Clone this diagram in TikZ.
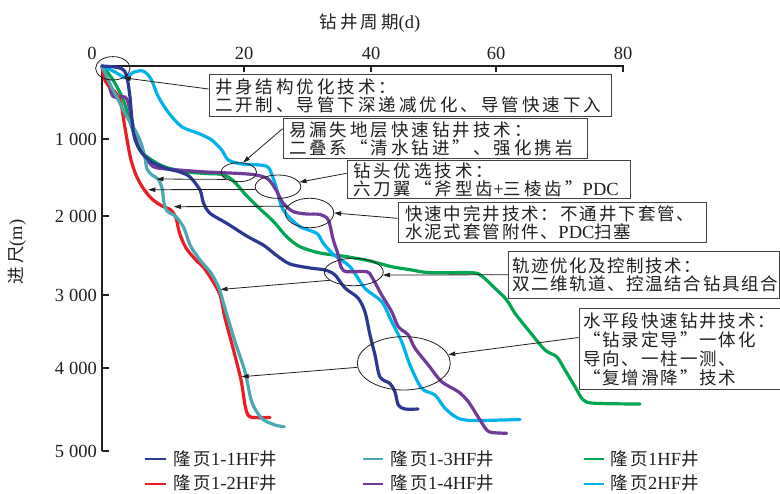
\documentclass[tikz,border=0pt]{standalone}
\usepackage{fontspec}
\setmainfont{Liberation Serif}
\newfontfamily\cjk[LetterSpace=17,Scale=0.946]{Noto Sans CJK SC}
\newfontfamily\cjkm[LetterSpace=11,Scale=0.946]{Noto Sans CJK SC}
\newfontfamily\cjkn[LetterSpace=9,Scale=0.946]{Noto Sans CJK SC}
\usetikzlibrary{shapes.geometric,arrows.meta}
\definecolor{cnavy}{HTML}{2B3990}
\definecolor{cred}{HTML}{ED1C24}
\definecolor{cteal}{HTML}{4AA8B3}
\definecolor{cgreen}{HTML}{00A651}
\definecolor{cpurple}{HTML}{6F3A98}
\definecolor{ccyan}{HTML}{00B3EC}
\definecolor{ink}{HTML}{231F20}
\newcommand\zh[1]{{\cjk #1}}
\newcommand\zhm[1]{{\cjkm #1}}
\newcommand\zhn[1]{{\cjkn #1}}
\newcommand\fs{\fontsize{18.5bp}{18.5bp}\selectfont}
\newcommand\fsb{\fontsize{18.5bp}{19bp}\selectfont}
\newcommand\thsp{\hspace{5bp}}
\begin{document}
\begin{tikzpicture}[x=1bp,y=-1bp,
  curve/.style={line width=3.2bp, line cap=round, line join=round},
  axisline/.style={line width=1.4bp, draw=ink},
  ell/.style={ellipse, draw=ink, line width=0.8bp, inner sep=0pt},
  tbox/.style={draw=ink!85, line width=1bp, align=left, inner xsep=6bp, inner ysep=0pt, font=\fs, text=ink, fill=white},
  arr/.style={draw=ink, line width=0.8bp, -{Triangle[length=7bp,width=4.5bp]}},
  lab/.style={font=\fs, text=ink, inner sep=0pt},
  legline/.style={line width=2bp},
  ]
\useasboundingbox (0,0) rectangle (780,494);

% axes
\draw[axisline] (102,451) -- (102,66) -- (623,66) -- (623,72);
\foreach \x in {244,371,496} \draw[axisline] (\x,66) -- (\x,72);
\foreach \y in {139,216,295,368,451} \draw[axisline] (102,\y) -- (109,\y);

\node[lab] (x0) at (92,53) {0};
\node[lab] (x20) at (244,53) {20};
\node[lab] (x40) at (371,53) {40};
\node[lab] (x60) at (496,53) {60};
\node[lab] (x80) at (623,53) {80};
\node[lab] (xt) at (370,23) {\zh{钻井周期}(d)};

\node[lab,anchor=east] (y1) at (97,139) {1\thsp000};
\node[lab,anchor=east] (y2) at (97,216) {2\thsp000};
\node[lab,anchor=east] (y3) at (97,295) {3\thsp000};
\node[lab,anchor=east] (y4) at (97,368) {4\thsp000};
\node[lab,anchor=east] (y5) at (97,451) {5\thsp000};
\node[lab,rotate=90] (yt) at (17,252) {\zh{进尺}(m)};

% curves
\draw[curve,cgreen] plot[smooth,tension=0.5] coordinates {(102,66) (108.3,73.3) (115,83.3) (123.3,100) (131.7,126.7) (140,150) (151.7,160) (165,167) (185,171.7) (205,173.5) (222,174.5) (233,180.5) (245,194) (259,208) (273,221) (286.7,236.7) (300,246.7) (320,253) (346.7,256.7) (370,261) (391.7,266.7) (411.7,270) (430,272.7) (471.7,272.7) (481.7,276) (495,288.3) (506.7,300) (515,313.3) (528.3,330) (545,350) (556.7,356.7) (565,370) (575,386.7) (583.3,400) (595,403.3) (640,404)};
\draw[curve,ccyan] plot[smooth,tension=0.5] coordinates {(102,66) (115,72) (126,78) (133,72.5) (143,71) (151,79) (158,96) (168,112) (181.7,126.7) (198.3,133.3) (211.7,140) (221.7,150) (228.3,160) (241.7,164) (266,166) (272,175) (277,190) (281,205) (287,215) (300,226.7) (316.7,233.3) (323.3,243.3) (334,255) (350,266.7) (365,288.3) (381.7,301.7) (391.7,321.7) (401.7,341.7) (410,365) (421.7,388.3) (435,395) (445,408.3) (458.3,418.3) (475,420.5) (520,419.5)};
\draw[curve,cpurple] plot[smooth,tension=0.5] coordinates {(102,66) (105,76.7) (109,86) (113,96.5) (119,97) (125,97) (128.3,103.3) (133.3,126.7) (138.3,146.7) (146,158) (153.3,166.7) (166,169) (185,170.5) (206,172) (240,173.5) (256,175) (268,179) (276,190) (283,203) (293,211.5) (306,214) (320,214.5) (328.3,220) (333.3,240) (338.3,255) (341,267) (346.7,271.7) (366.7,271.7) (373,279) (381.7,295) (391.7,311.7) (398.3,326.7) (408.3,335) (415,348.3) (428.3,365) (441.7,381.7) (458.3,391.7) (468.3,401.7) (480,420) (486.7,430) (492,432.5) (506.7,433.3)};
\draw[curve,cred] plot[smooth,tension=0.5] coordinates {(102,66) (104,78) (108,85) (116,93) (121,104) (124.5,125) (128,145) (131,160) (136,175) (143,188) (152,199) (162,206) (171,210) (176,218) (179.5,233) (186,248) (196,260) (204,268) (212,280) (220,295) (225,318) (233,348) (241,380) (245,405) (248,415) (253,417.5) (270,417.5)};
\draw[curve,cteal] plot[smooth,tension=0.5] coordinates {(102,66) (106.7,76.7) (112,88) (118.3,100) (126.7,116.7) (135,130) (141,143) (145,158) (147,169) (152,175) (158,179) (162,188) (164,203) (167,211) (176,216.7) (184,228) (190,245) (200,260) (211,273) (219,288) (224,305) (235,341.7) (245,371.7) (251.7,401.7) (261.7,418.3) (275,425) (284.3,426.7)};
\draw[curve,cnavy] plot[smooth,tension=0.5] coordinates {(102,66) (118,67.5) (124.5,71) (127.5,80) (130,97) (131.7,117) (134.3,137) (140,150) (150,161) (165,168) (180,172) (190,177) (200,190) (203.5,203) (210,213.3) (226.7,223.3) (246.7,236) (264,245.5) (276.7,255.5) (290,264) (310,268) (325,270) (335,275) (345,288) (358,298) (365,312) (370,335) (375,355) (380,377) (390,383.5) (395,392) (398.3,405) (405,409) (418,409)};

% ellipses
\node[ell, minimum width=34.4bp, minimum height=23.4bp] (eO) at (112.8,68.3) {};
\node[ell, minimum width=35.6bp, minimum height=19bp] (eA) at (238.8,172.2) {};
\node[ell, minimum width=45.6bp, minimum height=23.4bp] (eB) at (278,186.7) {};
\node[ell, minimum width=48.5bp, minimum height=29.5bp] (eC) at (309.5,213) {};
\node[ell, minimum width=59bp, minimum height=27.4bp] (eD) at (353.8,272) {};
\node[ell, minimum width=93bp, minimum height=53.4bp] (eE) at (403.8,363.3) {};

% boxes
\node[tbox, text width=390bp, minimum height=42bp] (b1) at (410,96)
  {\zh{井身结构优化技术：}\\\zh{二开制、导管下深递减优化、导管快速下入}};
\node[tbox, text width=292bp, minimum height=39.5bp] (b2) at (435,138.75)
  {\zh{易漏失地层快速钻井技术：}\\\zh{二叠系“清水钻进”、强化携岩}};
\node[tbox, text width=271bp, minimum height=38bp] (b3) at (488.5,180)
  {\zh{钻头优选技术：}\\\zh{六刀翼“斧型齿}+\zh{三棱齿”}PDC};
\node[tbox, inner xsep=7bp, text width=294bp, minimum height=40bp] (b4) at (552,223)
  {\zhm{快速中完井技术：不通井下套管、}\\\zhm{水泥式套管附件、}PDC\zhm{扫塞}};
\node[tbox, inner xsep=4bp, text width=263.5bp, minimum height=46.5bp] (b5) at (644,274.75)
  {\zhn{轨迹优化及控制技术：}\\\zhn{双二维轨道、控温结合钻具组合}};
\node[tbox, font=\fsb, inner xsep=4bp, text width=193bp, minimum height=80bp] (b6) at (679.5,349)
  {\zhm{水平段快速钻井技术：}\\\zhm{“钻录定导”一体化}\\\zhm{导向、一柱一测、}\\\zhm{“复增滑降”技术}};

% arrows from boxes to ellipses
\draw[arr] ([yshift=7bp]b1.west) -- (eO.-41);
\draw[arr] ([yshift=10bp]b2.west) -- (eA.66);
\draw[arr] ([yshift=6.7bp]b3.west) -- (eB.12);
\draw[arr] ([yshift=4.7bp]b4.west) -- (eC.east);
\draw[arr] (b5.west) -- (eD.-6);
\draw[arr] ([yshift=11.5bp]b6.west) -- (eE.11);

% arrows from ellipses to curves
\coordinate (t7) at (156.5,179);
\coordinate (t8) at (148.3,189.7);
\coordinate (t9) at (174,206.7);
\coordinate (t10) at (220.5,289.5);
\coordinate (t11) at (241.7,376.7);
\draw[arr] (eA.210) -- (t7);
\draw[arr] (eB.187) -- (t8);
\draw[arr] (eC.163) -- (t9);
\draw[arr] (eD.199) -- (t10);
\draw[arr] (eE.185) -- (t11);

% legend
\draw[legline,cnavy] (145,459) -- (166,459);
\node[lab,anchor=west] (l1) at (173,458.5) {\zh{隆页}1-1HF\zh{井}};
\draw[legline,cteal] (363,459) -- (383,459);
\node[lab,anchor=west] (l3) at (390,458.5) {\zh{隆页}1-3HF\zh{井}};
\draw[legline,cgreen] (584,459) -- (604,459);
\node[lab,anchor=west] (l5) at (610,458.5) {\zh{隆页}1HF\zh{井}};
\draw[legline,cred] (145,483.5) -- (166,483.5);
\node[lab,anchor=west] (l2) at (173,482.5) {\zh{隆页}1-2HF\zh{井}};
\draw[legline,cpurple] (363,483.5) -- (383,483.5);
\node[lab,anchor=west] (l4) at (390,482.5) {\zh{隆页}1-4HF\zh{井}};
\draw[legline,ccyan] (584,483.5) -- (604,483.5);
\node[lab,anchor=west] (l6) at (610,482.5) {\zh{隆页}2HF\zh{井}};
\end{tikzpicture}
\end{document}
